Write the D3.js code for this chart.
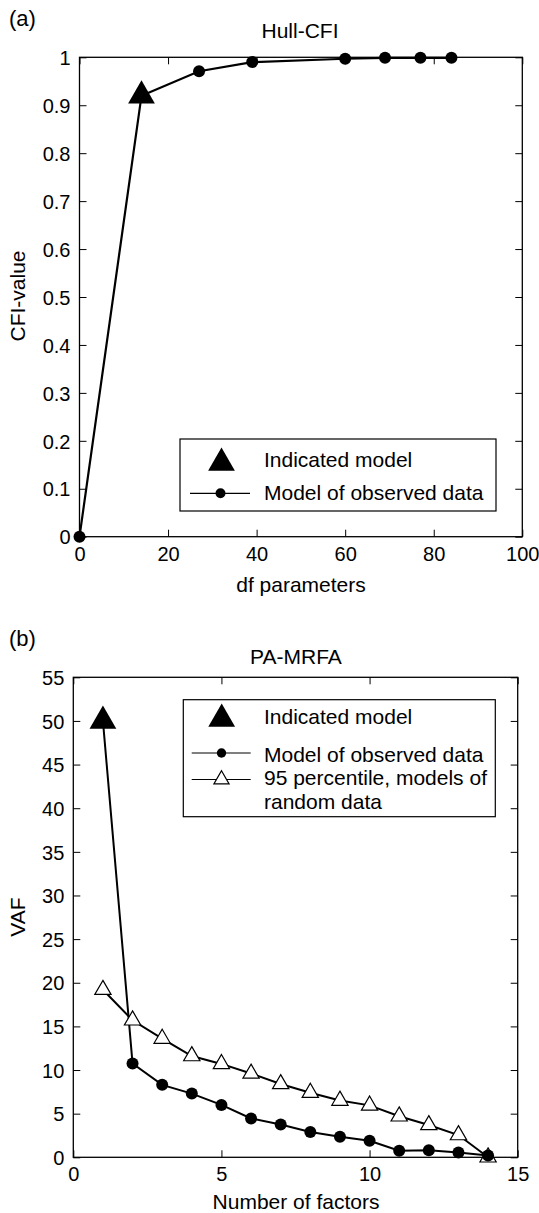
<!DOCTYPE html>
<html><head><meta charset="utf-8">
<script src="https://cdn.jsdelivr.net/npm/d3@7"></script>
<style>body{margin:0;background:#fff}svg{display:block}text{font-family:"Liberation Sans",Arial,sans-serif;fill:#000}</style>
</head><body><svg id="c" width="539" height="1213"></svg>
<script>
// ---- Panel (a) data ----
const cfiDf = [0, 14, 27, 39, 60, 69, 77, 84];
const cfiVal = [0, 0.92, 0.971, 0.99, 0.997, 0.999, 0.999, 0.999];
const cfiIndicatedIdx = 1;
const cfiXTicks = [0, 20, 40, 60, 80, 100];
const cfiYTicks = [0, 0.1, 0.2, 0.3, 0.4, 0.5, 0.6, 0.7, 0.8, 0.9, 1];
// ---- Panel (b) data ----
const nFactors = [1,2,3,4,5,6,7,8,9,10,11,12,13,14];
const vafObserved = [50, 10.75, 8.3, 7.3, 6.0, 4.45, 3.75, 2.9, 2.35, 1.9, 0.75, 0.8, 0.55, 0.2];
const vafRandom95 = [19.2, 15.7, 13.6, 11.6, 10.7, 9.6, 8.4, 7.4, 6.5, 5.95, 4.7, 3.7, 2.55, 0];
const vafIndicatedIdx = 0;
const vafXTicks = [0, 5, 10, 15];
const vafYTicks = [0,5,10,15,20,25,30,35,40,45,50,55];

const svg = d3.select("#c");
const FS = 20, LS = 21;

function frame(g, x, y, xt, yt, fmtY){
  const [x0,x1] = x.range(), [y0,y1] = y.range();
  const ax = g.append("g").attr("transform",`translate(0,${y0})`)
    .call(d3.axisBottom(x).tickValues(xt).tickSizeInner(-7).tickSizeOuter(0));
  const axT = g.append("g").attr("transform",`translate(0,${y1})`)
    .call(d3.axisTop(x).tickValues(xt).tickSizeInner(-7).tickSizeOuter(0).tickFormat(""));
  const ay = g.append("g").attr("transform",`translate(${x0},0)`)
    .call(d3.axisLeft(y).tickValues(yt).tickSizeInner(-7).tickSizeOuter(0).tickPadding(9).tickFormat(fmtY));
  const ayR = g.append("g").attr("transform",`translate(${x1},0)`)
    .call(d3.axisRight(y).tickValues(yt).tickSizeInner(-7).tickSizeOuter(0).tickFormat(""));
  [ax,axT,ay,ayR].forEach(a=>{
    a.select(".domain").remove();
    a.selectAll("line").attr("stroke","#000").attr("stroke-width",1);
    a.selectAll("text").attr("font-size",FS).attr("font-family",'"Liberation Sans",Arial,sans-serif');
  });
  ax.selectAll("text").attr("y",24).attr("dy",null);
  ay.selectAll("text").attr("dy","0.36em");
  g.append("rect").attr("x",x0).attr("y",y1).attr("width",x1-x0).attr("height",y0-y1)
    .attr("fill","none").attr("stroke","#000").attr("stroke-width",1.3);
}
const tri = (s)=>d3.symbol().type(d3.symbolTriangle).size(s)();

// ---------- Panel (a) ----------
{
  const x = d3.scaleLinear().domain([0,100]).range([79.5,522.3]);
  const y = d3.scaleLinear().domain([0,1]).range([536.7,57.3]);
  const g = svg.append("g");
  svg.append("text").attr("x",9).attr("y",26).attr("font-size",22).text("(a)");
  svg.append("text").attr("x",300).attr("y",38).attr("text-anchor","middle").attr("font-size",LS).text("Hull-CFI");
  frame(g,x,y,cfiXTicks,cfiYTicks,d=>String(+d.toFixed(1)));
  svg.append("text").attr("x",301).attr("y",592).attr("text-anchor","middle").attr("font-size",LS).text("df parameters");
  svg.append("text").attr("transform","translate(25,296) rotate(-90)").attr("text-anchor","middle").attr("font-size",LS).text("CFI-value");
  const pts = cfiDf.map((d,i)=>[d,cfiVal[i]]);
  g.append("path").attr("d",d3.line().x(d=>x(d[0])).y(d=>y(d[1]))(pts))
    .attr("fill","none").attr("stroke","#000").attr("stroke-width",2.2);
  g.selectAll("circle.o").data(pts.filter((d,i)=>i!==cfiIndicatedIdx)).join("circle")
    .attr("cx",d=>x(d[0])).attr("cy",d=>y(d[1])).attr("r",6).attr("fill","#000");
  g.append("path").attr("d",tri(310)).attr("transform",`translate(${x(cfiDf[cfiIndicatedIdx])},${y(cfiVal[cfiIndicatedIdx])})`).attr("fill","#000");
  // legend
  const L = svg.append("g");
  L.append("rect").attr("x",180).attr("y",439).attr("width",316).attr("height",72).attr("fill","#fff").attr("stroke","#000").attr("stroke-width",1.2);
  L.append("path").attr("d",tri(310)).attr("transform","translate(221.5,463)").attr("fill","#000");
  L.append("text").attr("x",264).attr("y",467).attr("font-size",LS).text("Indicated model");
  L.append("line").attr("x1",190).attr("x2",250).attr("y1",493.3).attr("y2",493.3).attr("stroke","#000").attr("stroke-width",1.2);
  L.append("circle").attr("cx",220.5).attr("cy",493.3).attr("r",5).attr("fill","#000");
  L.append("text").attr("x",264).attr("y",500).attr("font-size",LS).text("Model of observed data");
}

// ---------- Panel (b) ----------
{
  const x = d3.scaleLinear().domain([0,15]).range([73.3,517.7]);
  const y = d3.scaleLinear().domain([0,55]).range([1157.3,677.3]);
  const g = svg.append("g");
  svg.append("text").attr("x",9).attr("y",646).attr("font-size",22).text("(b)");
  svg.append("text").attr("x",296).attr("y",664).attr("text-anchor","middle").attr("font-size",LS).text("PA-MRFA");
  frame(g,x,y,vafXTicks,vafYTicks,d=>String(d));
  svg.append("text").attr("x",296).attr("y",1209).attr("text-anchor","middle").attr("font-size",LS).text("Number of factors");
  svg.append("text").attr("transform","translate(25,917) rotate(-90)").attr("text-anchor","middle").attr("font-size",LS).text("VAF");
  const obs = nFactors.map((d,i)=>[d,vafObserved[i]]);
  const rnd = nFactors.map((d,i)=>[d,vafRandom95[i]]);
  const line = d3.line().x(d=>x(d[0])).y(d=>y(d[1]));
  g.append("path").attr("d",line(rnd)).attr("fill","none").attr("stroke","#000").attr("stroke-width",2);
  g.append("path").attr("d",line(obs)).attr("fill","none").attr("stroke","#000").attr("stroke-width",2);
  g.selectAll("path.rt").data(rnd).join("path").attr("class","rt")
    .attr("d",tri(115)).attr("transform",d=>`translate(${x(d[0])},${y(d[1])})`)
    .attr("fill","#fff").attr("stroke","#000").attr("stroke-width",1.2);
  g.selectAll("circle.ob").data(obs.filter((d,i)=>i!==vafIndicatedIdx)).join("circle").attr("class","ob")
    .attr("cx",d=>x(d[0])).attr("cy",d=>y(d[1])).attr("r",6).attr("fill","#000");
  g.append("path").attr("d",tri(310)).attr("transform",`translate(${x(nFactors[vafIndicatedIdx])},${y(vafObserved[vafIndicatedIdx])})`).attr("fill","#000");
  // legend
  const L = svg.append("g");
  L.append("rect").attr("x",183.3).attr("y",699.7).attr("width",312).attr("height",117).attr("fill","#fff").attr("stroke","#000").attr("stroke-width",1.2);
  L.append("path").attr("d",tri(310)).attr("transform","translate(221.7,719)").attr("fill","#000");
  L.append("text").attr("x",264).attr("y",724).attr("font-size",LS).text("Indicated model");
  L.append("line").attr("x1",191.7).attr("x2",250.7).attr("y1",753).attr("y2",753).attr("stroke","#000").attr("stroke-width",1.2);
  L.append("circle").attr("cx",221.5).attr("cy",753).attr("r",4.7).attr("fill","#000");
  L.append("text").attr("x",264).attr("y",762).attr("font-size",LS).text("Model of observed data");
  L.append("line").attr("x1",191.7).attr("x2",250.7).attr("y1",779.5).attr("y2",779.5).attr("stroke","#000").attr("stroke-width",1.2);
  L.append("path").attr("d",tri(100)).attr("transform","translate(221.5,779.5)").attr("fill","#fff").attr("stroke","#000").attr("stroke-width",1.2);
  L.append("text").attr("x",264).attr("y",785).attr("font-size",LS).text("95 percentile, models of");
  L.append("text").attr("x",264).attr("y",809).attr("font-size",LS).text("random data");
}
</script></body></html>
